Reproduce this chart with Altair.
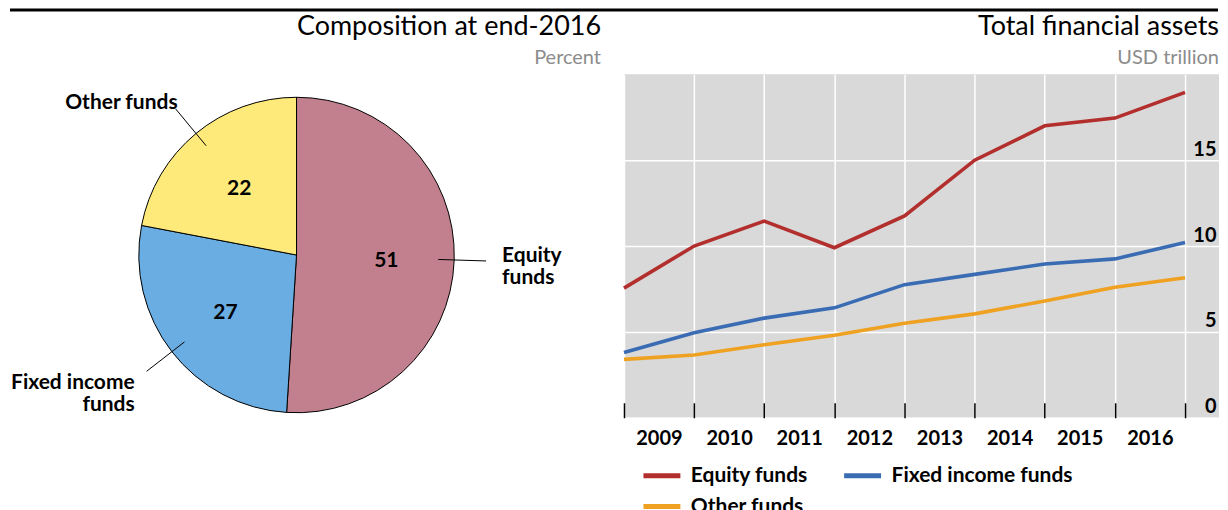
import altair as alt
import pandas as pd

FONT = "Lato"

# ---------------- data ----------------
pie_categories = ["Equity funds", "Fixed income funds", "Other funds"]
pie_shares = [51, 27, 22]
pie_labels = ["Equity\nfunds", "Fixed income\nfunds", "Other funds"]
pie_colors = ["#C2808E", "#6AADE2", "#FEEA7A"]

years = [2009, 2010, 2011, 2012, 2013, 2014, 2015, 2016, 2017]
equity = [7.55, 10.0, 11.45, 9.9, 11.75, 15.0, 17.0, 17.45, 18.95]
fixed_income = [3.8, 4.95, 5.8, 6.4, 7.75, 8.35, 8.95, 9.25, 10.2]
other = [3.4, 3.65, 4.25, 4.8, 5.5, 6.05, 6.8, 7.6, 8.15]
series_names = ["Equity funds", "Fixed income funds", "Other funds"]
line_colors = ["#B22F2D", "#3A6CB4", "#EFA122"]
x_tick_values = [2009, 2010, 2011, 2012, 2013, 2014, 2015, 2016, 2017]
y_tick_values = [0, 5, 10, 15]

# ---------------- pie panel ----------------
PIE_W, PIE_H = 592, 344
CX, CY, R = 287, 181, 158
R_LABEL = 90
R_IN, R_OUT = 142, 190

pie_df = pd.DataFrame({
    "category": pie_categories,
    "share": pie_shares,
    "order": list(range(len(pie_categories))),
    "label": pie_labels,
})

base = alt.Chart(pie_df)

arcs = base.mark_arc(radius=R, stroke="black", strokeWidth=1).encode(
    theta=alt.Theta("share:Q", stack=True),
    order=alt.Order("order:Q"),
    color=alt.Color("category:N",
                    scale=alt.Scale(domain=pie_categories, range=pie_colors),
                    legend=None),
    x=alt.value(CX), y=alt.value(CY),
)

inner = base.mark_text(radius=R_LABEL, font=FONT, fontSize=21, dy=3,
                       fontWeight="bold", color="black").encode(
    theta=alt.Theta("share:Q", stack=True),
    order=alt.Order("order:Q"),
    text=alt.Text("share:Q"),
    x=alt.value(CX), y=alt.value(CY),
)

geo = base.transform_joinaggregate(
    total="sum(share)"
).transform_window(
    cum="sum(share)", sort=[alt.SortField("order")], frame=[None, 0]
).transform_calculate(
    mid="(datum.cum - datum.share / 2) / datum.total * 2 * PI",
    xa=f"{CX} + {R_IN} * sin(datum.mid)",
    ya=f"{CY} - {R_IN} * cos(datum.mid)",
    xb=f"{CX} + {R_OUT} * sin(datum.mid)",
    yb=f"{CY} - {R_OUT} * cos(datum.mid)",
)

leaders = geo.mark_rule(color="black", strokeWidth=1).encode(
    x=alt.X("xa:Q", scale=None, axis=None),
    y=alt.Y("ya:Q", scale=None, axis=None),
    x2="xb:Q", y2="yb:Q",
)


def outer_label(cat, align, dx, dy):
    return geo.transform_filter(alt.datum.category == cat).mark_text(
        align=align, baseline="middle", dx=dx, dy=dy, lineBreak="\n",
        font=FONT, fontSize=21, fontWeight="bold", lineHeight=22,
        color="black",
    ).encode(
        x=alt.X("xb:Q", scale=None, axis=None),
        y=alt.Y("yb:Q", scale=None, axis=None),
        text="label:N",
    )


lab_eq = outer_label("Equity funds", "left", 16, -5)
lab_fi = outer_label("Fixed income funds", "right", -12, 12)
lab_ot = outer_label("Other funds", "right", 2, -6)

pie = alt.layer(arcs, inner, leaders, lab_eq, lab_fi, lab_ot).properties(
    width=PIE_W, height=PIE_H,
    title=alt.TitleParams("Composition at end-2016", subtitle="Percent"),
)

# ---------------- line panel ----------------
LINE_W = 596
line_df = pd.DataFrame({
    "year": years * 3,
    "series": [series_names[0]] * len(years) + [series_names[1]] * len(years)
              + [series_names[2]] * len(years),
    "value": equity + fixed_income + other,
})

lines = alt.Chart(line_df).mark_line(strokeWidth=3.6).encode(
    x=alt.X("year:Q",
            scale=alt.Scale(domain=[2009, 2017.484], nice=False, zero=False),
            axis=alt.Axis(values=x_tick_values, format="d", title=None,
                          labelExpr="datum.value >= 2017 ? '' : datum.label",
                          labelOffset=35, labelFlush=False, labelOverlap=False,
                          offset=-15, tickSize=15, tickColor="black", tickWidth=1.5,
                          domain=False, grid=True, gridColor="white", gridWidth=1.5,
                          labelFont=FONT, labelFontSize=20, labelFontWeight="bold",
                          labelColor="black", labelPadding=11)),
    y=alt.Y("value:Q",
            scale=alt.Scale(domain=[0, 20], nice=False),
            axis=alt.Axis(orient="right", values=y_tick_values, title=None,
                          ticks=False, tickSize=0, domain=False,
                          grid=True, gridColor="white", gridWidth=1.5,
                          labelAlign="right", labelBaseline="alphabetic",
                          labelPadding=-3, labelOffset=-5,
                          labelFont=FONT, labelFontSize=20, labelFontWeight="bold",
                          labelColor="black")),
    color=alt.Color("series:N",
                    scale=alt.Scale(domain=series_names, range=line_colors),
                    legend=alt.Legend(orient="none", legendX=17, legendY=381,
                                      columns=2, title=None, direction="horizontal",
                                      symbolType="stroke", symbolSize=1369,
                                      symbolStrokeWidth=5, labelOffset=8,
                                      labelFont=FONT, labelFontSize=21,
                                      labelFontWeight="bold", labelColor="black",
                                      labelLimit=300,
                                      columnPadding=25, rowPadding=0, padding=0)),
).properties(
    width=LINE_W, height=344,
    title=alt.TitleParams("Total financial assets", subtitle="USD trillion"),
    view=alt.ViewBackground(fill="#D9D9D9", stroke=None),
)

# ---------------- top rule ----------------
top_line = alt.Chart(pd.DataFrame({"k": [0]})).mark_rule(
    color="black", strokeWidth=3
).encode(
    x=alt.value(0), x2=alt.value(1210), y=alt.value(1.5)
).properties(width=1210, height=3)

body = alt.hconcat(pie, lines, spacing=23, bounds="flush").resolve_scale(
    color="independent"
)

chart = alt.vconcat(top_line, body, spacing=2).properties(
    padding={"top": 0, "left": 0, "right": 0, "bottom": -6},
).configure_view(
    stroke=None,
).configure_title(
    font=FONT, fontSize=27, fontWeight="normal", color="black",
    subtitleFont=FONT, subtitleFontSize=20, subtitleColor="#8C8C8C",
    subtitlePadding=7, offset=5, anchor="end", frame="group",
)

chart.save("out.html", embed_options={"renderer": "svg", "actions": False})
